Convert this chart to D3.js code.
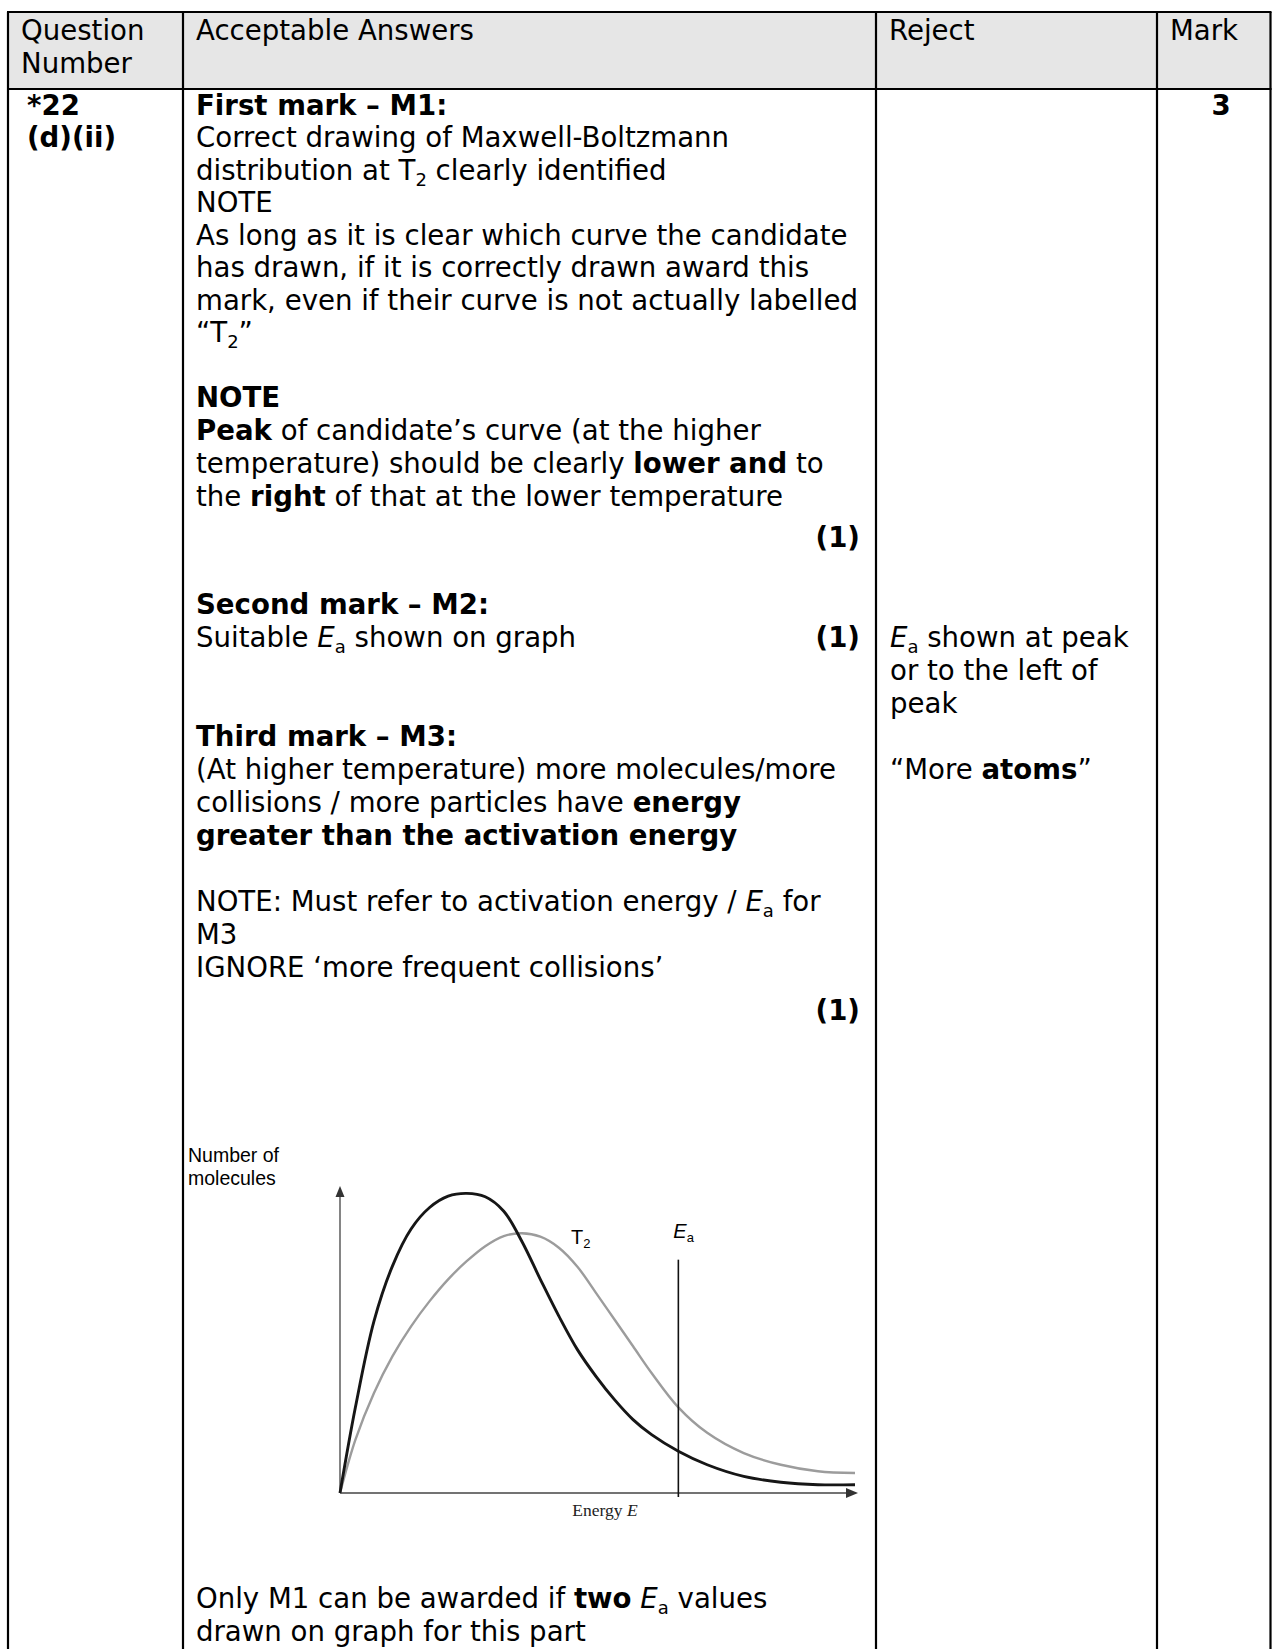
<!DOCTYPE html>
<html>
<head>
<meta charset="utf-8">
<script src="https://cdn.jsdelivr.net/npm/d3@7"></script>
<style>
  body { margin: 0; background: #fff; }
  svg { display: block; }
</style>
</head>
<body>
<div id="container"></div>
<script>
// energy (x) and number of molecules (y), both on a 0-100 scale
const energy = [0, 3.0, 6.6, 10.2, 13.8, 17.4, 21.0, 24.6, 28.2, 31.8, 35.3, 38.9, 42.5, 46.1, 49.7, 53.3, 56.9, 60.5, 65.7, 71.3, 78.4, 85.6, 92.8, 100]
const lowT = [0, 28, 56, 74, 86, 93, 96.7, 97.6, 96.5, 91.8, 82, 69.6, 57.6, 46.7, 38, 30.4, 23.9, 19, 13.6, 9.2, 5.4, 3.5, 2.7, 2.7]
const highT = [0, 17.4, 32.6, 44.6, 54.3, 62.5, 69.6, 75.5, 80.4, 83.7, 84.6, 83.5, 79.9, 73.7, 65.2, 56.5, 47.8, 39.1, 27.9, 19.6, 13, 9.2, 7.1, 6.5]
const eaEnergy = 65.7
const eaTop = 76

// table
const headers = ["Question|Number", "Acceptable Answers", "Reject", "Mark"]
const colLines = [8, 183, 876, 1157, 1270.5]

// text of the answer column: [baseline, segments], segment = [text, style]
const answerLines = [
    [114.5, [["First mark – M1:", "b"]]],
    [147, [["Correct drawing of Maxwell-Boltzmann"]]],
    [179.5, [["distribution at T"], ["2", "sub"], [" clearly identified"]]],
    [212, [["NOTE"]]],
    [244.5, [["As long as it is clear which curve the candidate"]]],
    [277, [["has drawn, if it is correctly drawn award this"]]],
    [309.5, [["mark, even if their curve is not actually labelled"]]],
    [342, [["\u201cT"], ["2", "sub"], ["\u201d"]]],
    [407.3, [["NOTE", "b"]]],
    [440, [["Peak", "b"], [" of candidate\u2019s curve (at the higher"]]],
    [472.9, [["temperature) should be clearly "], ["lower and", "b"], [" to"]]],
    [505.8, [["the "], ["right", "b"], [" of that at the lower temperature"]]],
    [614, [["Second mark – M2:", "b"]]],
    [647, [["Suitable "], ["E", "i"], ["a", "sub"], [" shown on graph"]]],
    [746, [["Third mark – M3:", "b"]]],
    [779, [["(At higher temperature) more molecules/more"]]],
    [812, [["collisions / more particles have "], ["energy", "b"]]],
    [845, [["greater than the activation energy", "b"]]],
    [911, [["NOTE: Must refer to activation energy / "], ["E", "i"], ["a", "sub"], [" for"]]],
    [944, [["M3"]]],
    [977, [["IGNORE \u2018more frequent collisions\u2019"]]],
    [1608, [["Only M1 can be awarded if "], ["two", "b"], [" "], ["E", "i"], ["a", "sub"], [" values"]]],
    [1641, [["drawn on graph for this part"]]]
]
const markLines = [547, 647, 1020]

const rejectLines = [
    [647, [["E", "i"], ["a", "sub"], [" shown at peak"]]],
    [680, [["or to the left of"]]],
    [713, [["peak"]]],
    [779, [["\u201cMore "], ["atoms", "b"], ["\u201d"]]]
]

const width = 1272, height = 1649
const tableTop = 12, headBottom = 89

const svg = d3.select("div#container").append("svg")
    .attr("width", width)
    .attr("height", height)

const font = "'DejaVu Sans', Verdana, sans-serif"

// header band
svg.append("rect")
    .attr("x", colLines[0]).attr("y", tableTop)
    .attr("width", colLines[4] - colLines[0]).attr("height", headBottom - tableTop)
    .attr("fill", "#e6e6e6")

function writeLine(g, x, y, segs, anchor) {
    const t = g.append("text")
        .attr("x", x).attr("y", y)
        .attr("text-anchor", anchor || "start")
        .style("font-family", font)
        .style("font-size", "27.6px")
        .attr("fill", "#000")
    let shifted = false
    segs.forEach(s => {
        const sp = t.append("tspan").text(s[0])
        if (s[1] === "b") sp.attr("font-weight", "bold")
        if (s[1] === "i") sp.attr("font-style", "italic")
        if (s[1] === "sub") {
            sp.attr("font-size", "18px").attr("dy", 6)
            shifted = true
        } else if (shifted) {
            sp.attr("dy", -6)
            shifted = false
        }
    })
    return t
}

const txt = svg.append("g")

headers.forEach((h, i) => {
    h.split("|").forEach((part, j) => {
        writeLine(txt, colLines[i] + 13, 40 + j * 33, [[part]])
    })
})

writeLine(txt, 27, 114.5, [["*22", "b"]])
writeLine(txt, 27, 147, [["(d)(ii)", "b"]])
writeLine(txt, 1221, 114.5, [["3", "b"]], "middle")

answerLines.forEach(l => writeLine(txt, 196, l[0], l[1]))
markLines.forEach(y => writeLine(txt, 860, y, [["(1)", "b"]], "end"))
rejectLines.forEach(l => writeLine(txt, 890, l[0], l[1]))

// grid lines
colLines.forEach(x => {
    svg.append("line")
        .attr("x1", x).attr("x2", x)
        .attr("y1", tableTop).attr("y2", height)
        .attr("stroke", "#000").attr("stroke-width", 2.2)
})
;[tableTop, headBottom].forEach(y => {
    svg.append("line")
        .attr("x1", colLines[0] - 1).attr("x2", colLines[4] + 1)
        .attr("y1", y).attr("y2", y)
        .attr("stroke", "#000").attr("stroke-width", 2.2)
})

// Maxwell-Boltzmann sketch
const xScale = d3.scaleLinear().domain([0, 100]).range([340, 855])
const yScale = d3.scaleLinear().domain([0, 100]).range([1493, 1186])

const chart = svg.append("g")

chart.append("path")
    .attr("d", `M${xScale(0)},${yScale(0)}L${xScale(0)},${yScale(100) + 8}`)
    .attr("stroke", "#666").attr("stroke-width", 1.6).attr("fill", "none")
chart.append("path")
    .attr("d", `M${xScale(0)},${yScale(0)}L${xScale(100) - 6},${yScale(0)}`)
    .attr("stroke", "#444").attr("stroke-width", 1.6).attr("fill", "none")

// arrow heads
const x0 = xScale(0), y0 = yScale(0), yTop = yScale(100), xEnd = xScale(100) + 3
chart.append("path")
    .attr("d", `M${x0},${yTop}L${x0 - 4.5},${yTop + 11}L${x0 + 4.5},${yTop + 11}Z`)
    .attr("fill", "#333")
chart.append("path")
    .attr("d", `M${xEnd},${y0}L${xEnd - 12},${y0 - 5}L${xEnd - 12},${y0 + 5}Z`)
    .attr("fill", "#333")

const line = d3.line()
    .x((d, i) => xScale(energy[i]))
    .y(d => yScale(d))
    .curve(d3.curveCatmullRom.alpha(0.5))

chart.append("path")
    .datum(highT)
    .attr("d", line)
    .attr("fill", "none")
    .attr("stroke", "#9c9c9c")
    .attr("stroke-width", 2.4)

chart.append("path")
    .datum(lowT)
    .attr("d", line)
    .attr("fill", "none")
    .attr("stroke", "#161616")
    .attr("stroke-width", 2.9)

// activation energy line
chart.append("line")
    .attr("x1", xScale(eaEnergy)).attr("x2", xScale(eaEnergy))
    .attr("y1", yScale(eaTop)).attr("y2", yScale(0) + 4)
    .attr("stroke", "#111").attr("stroke-width", 1.6)

const small = "'Liberation Sans', Arial, sans-serif"

chart.append("text")
    .attr("x", 188).attr("y", 1162)
    .style("font", "19.5px " + small)
    .text("Number of")
chart.append("text")
    .attr("x", 188).attr("y", 1185)
    .style("font", "19.5px " + small)
    .text("molecules")

const t2 = chart.append("text")
    .attr("x", 571).attr("y", 1244)
    .style("font", "20px " + small)
t2.append("tspan").text("T")
t2.append("tspan").text("2").attr("font-size", "13px").attr("dy", 4)

const ea = chart.append("text")
    .attr("x", xScale(eaEnergy) - 5).attr("y", 1238)
    .style("font", "20px " + small)
ea.append("tspan").text("E").attr("font-style", "italic")
ea.append("tspan").text("a").attr("font-size", "13px").attr("dy", 4)

const en = chart.append("text")
    .attr("x", 605).attr("y", 1516)
    .attr("text-anchor", "middle")
    .style("font", "17.5px 'Liberation Serif', 'Times New Roman', serif")
    .attr("fill", "#222")
en.append("tspan").text("Energy ")
en.append("tspan").text("E").attr("font-style", "italic")
</script>
</body>
</html>
